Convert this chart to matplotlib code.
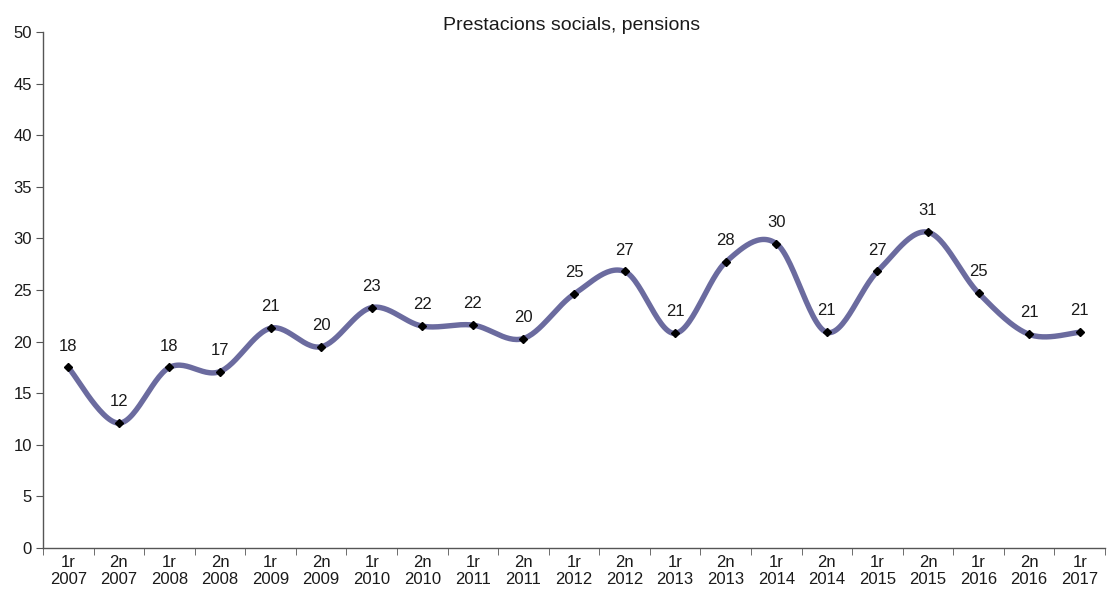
import numpy as np
import matplotlib
matplotlib.use("Agg")
import matplotlib.pyplot as plt

plt.rcParams['font.family'] = ['Liberation Sans', 'DejaVu Sans']

periods = ["1r", "2n"] * 10 + ["1r"]
years = ["2007", "2007", "2008", "2008", "2009", "2009", "2010", "2010", "2011", "2011",
         "2012", "2012", "2013", "2013", "2014", "2014", "2015", "2015", "2016", "2016", "2017"]
values = [17.5, 12.1, 17.5, 17.1, 21.3, 19.5, 23.3, 21.5, 21.6, 20.3,
          24.6, 26.8, 20.8, 27.7, 29.5, 20.9, 26.8, 30.6, 24.7, 20.7, 20.9]
tick_labels = [f"{p}\n{y}" for p, y in zip(periods, years)]
title = "Prestacions socials, pensions"

fig = plt.figure(figsize=(11.09, 5.89), dpi=100)
ax = fig.add_axes([43/1109, (589-548)/589, (1105-43)/1109, (548-32)/589])

x = np.arange(len(values), dtype=float)
y = np.array(values, dtype=float)

# Smooth curve (Catmull-Rom style Bezier through the points, like a spreadsheet smoothed line)
pts = np.column_stack([x, y])
curve = []
t = np.linspace(0, 1, 30)
n = len(pts)
for i in range(n - 1):
    p0 = pts[max(i - 1, 0)]
    p1 = pts[i]
    p2 = pts[i + 1]
    p3 = pts[min(i + 2, n - 1)]
    c1 = p1 + (p2 - p0) / 6.0
    c2 = p2 - (p3 - p1) / 6.0
    seg = ((1 - t) ** 3)[:, None] * p1 + (3 * (1 - t) ** 2 * t)[:, None] * c1 + \
          (3 * (1 - t) * t ** 2)[:, None] * c2 + (t ** 3)[:, None] * p2
    curve.append(seg if i == 0 else seg[1:])
curve = np.vstack(curve)

ax.plot(curve[:, 0], curve[:, 1], color="#6b6b9f", lw=3.9, solid_capstyle="round", zorder=2)
ax.plot(x, y, linestyle="none", marker="D", markersize=4.5, color="black", zorder=3)

for xi, yi in zip(x, y):
    ax.annotate(f"{int(round(yi))}", (xi, yi), xytext=(0, 10), textcoords="offset points",
                ha="center", va="bottom", fontsize=12, color="#1a1a1a")

ax.set_xlim(-0.5, len(values) - 0.5)
ax.set_ylim(0, 50)
ax.set_yticks(np.arange(0, 51, 5))
ax.set_xticks(x)
ax.set_xticklabels(tick_labels, fontsize=12, color="#1a1a1a", linespacing=1.15)
ax.set_xticks(np.arange(-0.5, len(values), 1.0), minor=True)
ax.tick_params(axis="x", which="major", length=0, pad=5)
ax.tick_params(axis="x", which="minor", length=5, direction="out", color="#555555")
ax.tick_params(axis="y", length=5, direction="out", color="#555555", labelsize=12,
               labelcolor="#1a1a1a", pad=3)

for s in ["top", "right"]:
    ax.spines[s].set_visible(False)
for s in ["left", "bottom"]:
    ax.spines[s].set_color("#555555")
    ax.spines[s].set_linewidth(1.0)

fig.text(572/1109, 1 - 25/589, title, ha="center", va="center", fontsize=14, color="#1a1a1a")

fig.savefig("out.png", dpi=100)
